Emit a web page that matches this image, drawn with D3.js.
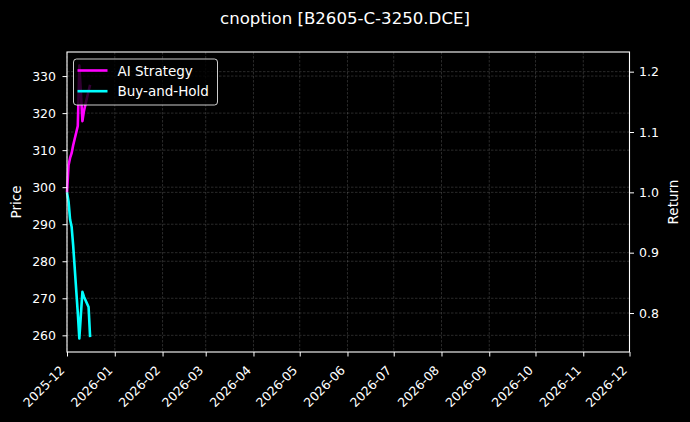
<!DOCTYPE html>
<html>
<head>
<meta charset="utf-8">
<script src="https://cdn.jsdelivr.net/npm/d3@7"></script>
<style>
  body { margin: 0; background: #000; }
  svg { display: block; font-family: "DejaVu Sans", sans-serif; }
  .axis text { fill: #fff; font-size: 12.5px; font-family: "DejaVu Sans", sans-serif; }
  .axis line, .axis path { stroke: #fff; }
  .grid line { stroke: #fff; stroke-opacity: 0.28; stroke-width: 0.6; stroke-dasharray: 2.5,1.5; }
</style>
</head>
<body>
<svg width="690" height="422"></svg>
<script>
// trading days shown in the chart
var dates = ['2025-12-01', '2025-12-02', '2025-12-03', '2025-12-04', '2025-12-05',
    '2025-12-08', '2025-12-09', '2025-12-10', '2025-12-11', '2025-12-12',
    '2025-12-15', '2025-12-16'];
// cumulative returns
var aiReturn = [1.000, 1.045, 1.057, 1.065, 1.078, 1.110, 1.210, 1.166, 1.118, 1.135, 1.168, 1.178];
var holdReturn = [1.000, 0.985, 0.955, 0.943, 0.912, 0.800, 0.758, 0.797, 0.835, 0.827, 0.810, 0.760];
var priceDomain = [255.5, 336.5];
var priceTicks = [260, 270, 280, 290, 300, 310, 320, 330];
var returnTicks = [0.8, 0.9, 1.0, 1.1, 1.2];
var xDomain = ['2025-12-01', '2026-12-01'];
var seriesNames = ['AI Strategy', 'Buy-and-Hold'];
var seriesColors = ['#ff00ff', '#00ffff'];

var svg = d3.select('svg');
var svgWidth = +svg.attr('width');
var svgHeight = +svg.attr('height');

var padding = {t: 52, r: 60.5, b: 70, l: 67};
var chartWidth = svgWidth - padding.l - padding.r;
var chartHeight = svgHeight - padding.t - padding.b;

var parse = d3.utcParse('%Y-%m-%d');

var xScale = d3.scaleUtc()
    .domain(xDomain.map(parse))
    .range([0, chartWidth]);
var yPrice = d3.scaleLinear()
    .domain(priceDomain)
    .range([chartHeight, 0]);

// matplotlib style autoscale: 5% margin on the return data
var allReturns = aiReturn.concat(holdReturn);
var rExt = d3.extent(allReturns);
var rPad = (rExt[1] - rExt[0]) * 0.05;
var yReturn = d3.scaleLinear()
    .domain([rExt[0] - rPad, rExt[1] + rPad])
    .range([chartHeight, 0]);

svg.append('rect')
    .attr('width', svgWidth)
    .attr('height', svgHeight)
    .attr('fill', '#000');

var chartG = svg.append('g')
    .attr('transform', 'translate(' + [padding.l, padding.t] + ')');

// grids
var monthTicks = xScale.ticks(d3.utcMonth.every(1));
chartG.append('g').attr('class', 'grid')
    .selectAll('line').data(monthTicks).enter().append('line')
    .attr('x1', function(d) { return xScale(d); })
    .attr('x2', function(d) { return xScale(d); })
    .attr('y1', 0).attr('y2', chartHeight);
chartG.append('g').attr('class', 'grid')
    .selectAll('line').data(priceTicks).enter().append('line')
    .attr('x1', 0).attr('x2', chartWidth)
    .attr('y1', function(d) { return yPrice(d); })
    .attr('y2', function(d) { return yPrice(d); });
chartG.append('g').attr('class', 'grid')
    .selectAll('line').data(returnTicks).enter().append('line')
    .attr('x1', 0).attr('x2', chartWidth)
    .attr('y1', function(d) { return yReturn(d); })
    .attr('y2', function(d) { return yReturn(d); });

// lines
var series = [aiReturn, holdReturn];
var line = d3.line()
    .x(function(d, i) { return xScale(parse(dates[i])); })
    .y(function(d) { return yReturn(d); });

series.forEach(function(s, i) {
    chartG.append('path')
        .datum(s)
        .attr('fill', 'none')
        .attr('stroke', seriesColors[i])
        .attr('stroke-width', 2.6)
        .attr('stroke-linejoin', 'round')
        .attr('d', line);
});

// axes
var xAxisG = chartG.append('g')
    .attr('class', 'x axis')
    .attr('transform', 'translate(' + [0, chartHeight] + ')')
    .call(d3.axisBottom(xScale)
        .tickValues(monthTicks)
        .tickFormat(d3.utcFormat('%Y-%m'))
        .tickSize(4.5)
        .tickSizeOuter(0));
xAxisG.select('.domain').remove();
xAxisG.selectAll('text')
    .attr('y', null).attr('dy', null)
    .attr('text-anchor', 'end')
    .attr('transform', 'translate(-2,19) rotate(-45)');

var yAxisG = chartG.append('g')
    .attr('class', 'y axis')
    .call(d3.axisLeft(yPrice)
        .tickValues(priceTicks)
        .tickSize(4.5)
        .tickPadding(6.5)
        .tickSizeOuter(0));
yAxisG.select('.domain').remove();

var y2AxisG = chartG.append('g')
    .attr('class', 'y axis')
    .attr('transform', 'translate(' + [chartWidth, 0] + ')')
    .call(d3.axisRight(yReturn)
        .tickValues(returnTicks)
        .tickFormat(d3.format('.1f'))
        .tickSize(4.5)
        .tickPadding(5)
        .tickSizeOuter(0));
y2AxisG.select('.domain').remove();

// frame
chartG.append('rect')
    .attr('width', chartWidth)
    .attr('height', chartHeight)
    .attr('fill', 'none')
    .attr('stroke', '#fff')
    .attr('stroke-width', 1.1);

// axis labels
svg.append('text')
    .attr('transform', 'translate(21,' + (padding.t + chartHeight / 2) + ') rotate(-90)')
    .attr('text-anchor', 'middle')
    .attr('fill', '#fff')
    .style('font-size', '13.5px')
    .text('Price');
svg.append('text')
    .attr('transform', 'translate(678,' + (padding.t + chartHeight / 2) + ') rotate(-90)')
    .attr('text-anchor', 'middle')
    .attr('fill', '#fff')
    .style('font-size', '13.5px')
    .text('Return');

// title
svg.append('text')
    .attr('x', svgWidth / 2)
    .attr('y', 24)
    .attr('text-anchor', 'middle')
    .attr('fill', '#fff')
    .style('font-size', '16.6px')
    .text('cnoption [B2605-C-3250.DCE]');

// legend
var legendG = chartG.append('g')
    .attr('transform', 'translate(6.5,7)');
legendG.append('rect')
    .attr('width', 144)
    .attr('height', 46)
    .attr('rx', 3)
    .attr('fill', '#000')
    .attr('fill-opacity', 0.8)
    .attr('stroke', '#fff')
    .attr('stroke-opacity', 0.8)
    .attr('stroke-width', 1);
seriesNames.forEach(function(name, i) {
    var yy = 11.5 + i * 20.7;
    legendG.append('line')
        .attr('x1', 4).attr('x2', 34)
        .attr('y1', yy).attr('y2', yy)
        .attr('stroke', seriesColors[i])
        .attr('stroke-width', 2.6);
    legendG.append('text')
        .attr('x', 44)
        .attr('y', yy + 5)
        .attr('fill', '#fff')
        .style('font-size', '13.5px')
        .text(name);
});
</script>
</body>
</html>
